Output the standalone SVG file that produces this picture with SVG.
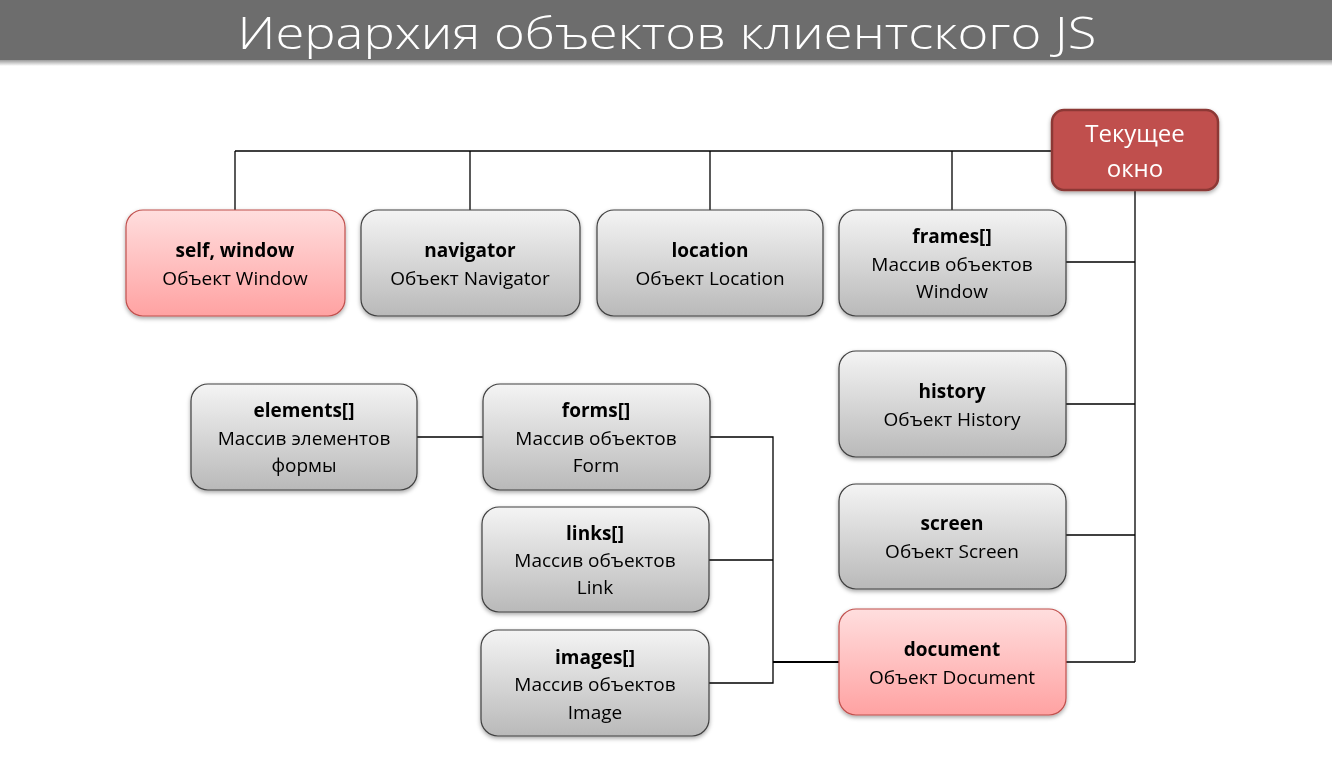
<svg xmlns="http://www.w3.org/2000/svg" width="1332" height="768" viewBox="0 0 1332 768">
<defs>
<linearGradient id="gGray" x1="0" y1="0" x2="0" y2="1">
<stop offset="0" stop-color="#f4f4f4"/><stop offset="1" stop-color="#b9b9b9"/>
</linearGradient>
<linearGradient id="gPink" x1="0" y1="0" x2="0" y2="1">
<stop offset="0" stop-color="#ffdede"/><stop offset="1" stop-color="#ffa2a2"/>
</linearGradient>
<linearGradient id="gBarShadow" x1="0" y1="0" x2="0" y2="1">
<stop offset="0" stop-color="#9a9a9a"/><stop offset="1" stop-color="#ffffff"/>
</linearGradient>
<filter id="sh" x="-10%" y="-10%" width="120%" height="130%">
<feDropShadow dx="0" dy="2" stdDeviation="2" flood-color="#000" flood-opacity="0.35"/>
</filter>
</defs>
<style>
.gray rect{fill:url(#gGray);stroke:#404040;stroke-width:1.2}
.pink rect{fill:url(#gPink);stroke:#c0504d;stroke-width:1.2}
text{font-family:"Open Sans","Liberation Sans",sans-serif;font-size:19px;text-anchor:middle;fill:#000}
.b{font-weight:bold}
.conn line,.conn polyline{stroke:#000;stroke-width:1.3;fill:none}
</style>
<rect x="0" y="0" width="1332" height="60" fill="#6d6d6d"/>
<rect x="0" y="60" width="1332" height="6" fill="url(#gBarShadow)"/>
<text x="667" y="49" style="font-family:'Open Sans','Liberation Sans',sans-serif;font-weight:300;font-size:45px;fill:#ffffff" textLength="859" lengthAdjust="spacingAndGlyphs">Иерархия объектов клиентского JS</text>

<g class="conn">
<line x1="235" y1="151" x2="1052" y2="151"/>
<line x1="235" y1="151" x2="235" y2="210"/>
<line x1="470" y1="151" x2="470" y2="210"/>
<line x1="710" y1="151" x2="710" y2="210"/>
<line x1="952" y1="151" x2="952" y2="210"/>
<line x1="1135" y1="190" x2="1135" y2="662"/>
<line x1="1066" y1="262" x2="1135" y2="262"/>
<line x1="1066" y1="404" x2="1135" y2="404"/>
<line x1="1066" y1="535" x2="1135" y2="535"/>
<line x1="1066" y1="662" x2="1135" y2="662"/>
<line x1="417" y1="437" x2="483" y2="437"/>
<polyline points="710,437 773,437 773,683 709,683"/>
<line x1="709" y1="560" x2="773" y2="560"/>
<line x1="773" y1="662" x2="839" y2="662" style="stroke-width:2"/>
</g>

<g id="current" filter="url(#sh)">
<rect x="1052" y="110" width="166" height="80" rx="12" fill="#c0504d" stroke="#8c3836" stroke-width="2.5"/>
<text x="1135" y="142" style="font-size:24px;fill:#fff">Текущее</text>
<text x="1135" y="177" style="font-size:24px;fill:#fff">окно</text>
</g>

<g id="self" class="pink" filter="url(#sh)">
<rect x="126" y="210" width="219" height="106" rx="17"/>
<text x="235" y="257" class="b">self, window</text>
<text x="235" y="285">Объект Window</text>
</g>
<g id="navigator" class="gray" filter="url(#sh)">
<rect x="361" y="210" width="219" height="106" rx="17"/>
<text x="470" y="257" class="b">navigator</text>
<text x="470" y="285">Объект Navigator</text>
</g>
<g id="location" class="gray" filter="url(#sh)">
<rect x="597" y="210" width="226" height="106" rx="17"/>
<text x="710" y="257" class="b">location</text>
<text x="710" y="285">Объект Location</text>
</g>
<g id="frames" class="gray" filter="url(#sh)">
<rect x="839" y="210" width="227" height="106" rx="17"/>
<text x="952" y="243" class="b">frames[]</text>
<text x="952" y="271">Массив объектов</text>
<text x="952" y="298">Window</text>
</g>
<g id="history" class="gray" filter="url(#sh)">
<rect x="839" y="351" width="227" height="106" rx="17"/>
<text x="952" y="398" class="b">history</text>
<text x="952" y="426">Объект History</text>
</g>
<g id="screen" class="gray" filter="url(#sh)">
<rect x="839" y="484" width="227" height="105" rx="17"/>
<text x="952" y="530" class="b">screen</text>
<text x="952" y="558">Объект Screen</text>
</g>
<g id="document" class="pink" filter="url(#sh)">
<rect x="839" y="609" width="227" height="106" rx="17"/>
<text x="952" y="656" class="b">document</text>
<text x="952" y="684">Объект Document</text>
</g>
<g id="elements" class="gray" filter="url(#sh)">
<rect x="191" y="384" width="226" height="106" rx="17"/>
<text x="304" y="417" class="b">elements[]</text>
<text x="304" y="445">Массив элементов</text>
<text x="304" y="472">формы</text>
</g>
<g id="forms" class="gray" filter="url(#sh)">
<rect x="483" y="384" width="227" height="106" rx="17"/>
<text x="596" y="417" class="b">forms[]</text>
<text x="596" y="445">Массив объектов</text>
<text x="596" y="472">Form</text>
</g>
<g id="links" class="gray" filter="url(#sh)">
<rect x="482" y="507" width="227" height="105" rx="17"/>
<text x="595" y="540" class="b">links[]</text>
<text x="595" y="567">Массив объектов</text>
<text x="595" y="594">Link</text>
</g>
<g id="images" class="gray" filter="url(#sh)">
<rect x="481" y="630" width="228" height="106" rx="17"/>
<text x="595" y="664" class="b">images[]</text>
<text x="595" y="691">Массив объектов</text>
<text x="595" y="719">Image</text>
</g>
</svg>
